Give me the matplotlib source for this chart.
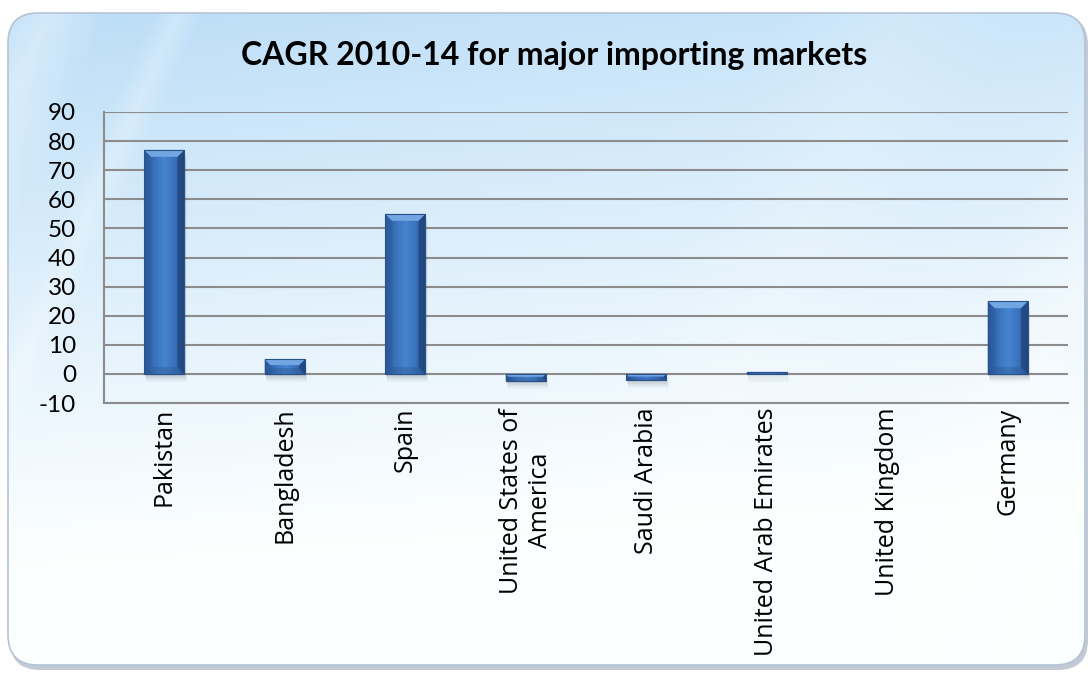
import numpy as np
import matplotlib
matplotlib.use("Agg")
import matplotlib.pyplot as plt
from matplotlib.patches import FancyBboxPatch, Polygon, Rectangle
from matplotlib.colors import LinearSegmentedColormap

# Chart data
markets = ["Pakistan", "Bangladesh", "Spain", "United States of\nAmerica",
           "Saudi Arabia", "United Arab Emirates", "United Kingdom", "Germany"]
cagr = [77.0, 5.0, 55.0, -2.4, -2.2, 0.7, 0.0, 25.0]
y_ticks = list(range(-10, 91, 10))
title = "CAGR 2010-14 for major importing markets"

W, H = 1089, 676
fig = plt.figure(figsize=(W / 100, H / 100), dpi=100)
fig.patch.set_facecolor("white")

# Background panel: rounded card with a soft blue-to-white wash
bg = fig.add_axes([0, 0, 1, 1], zorder=0)
bg.set_xlim(0, W)
bg.set_ylim(H, 0)
bg.axis("off")

yy, xx = np.mgrid[0:H, 0:W]
fy = yy / H
fx = xx / W
blue = np.array([0.74, 0.87, 0.97])
white = np.array([0.99, 1.0, 1.0])
t = np.clip(1.05 - 1.25 * fy - 0.25 * fx + 0.15 * fx * fy, 0, 1) ** 1.1
img = white[None, None, :] * (1 - t[..., None]) + blue[None, None, :] * t[..., None]
# faint diagonal light streaks
for c, w, a in [(-250, 60, 0.35), (-120, 25, 0.25), (900, 90, 0.3), (1000, 40, 0.3), (600, 120, 0.15)]:
    d = np.abs((xx - 0.45 * (H - yy)) - c)
    s = np.clip(1 - d / w, 0, 1) * a
    img = img * (1 - s[..., None]) + 1.0 * s[..., None]

shadow = FancyBboxPatch((10, 15), 1078, 655, boxstyle="round,pad=0,rounding_size=30",
                        facecolor="#8e9fb3", edgecolor="none", alpha=0.55, zorder=0)
bg.add_patch(shadow)
card = FancyBboxPatch((8, 13), 1077, 652, boxstyle="round,pad=0,rounding_size=30",
                      facecolor="none", edgecolor="#b4c4d6", linewidth=1.2, zorder=2)
bg.add_patch(card)
im = bg.imshow(img, extent=(0, W, H, 0), zorder=1, interpolation="bilinear")
im.set_clip_path(card)

# Plot area
left, right, top, bottom = 104, 1068, 112, 403
ax = fig.add_axes([left / W, 1 - bottom / H, (right - left) / W, (bottom - top) / H], zorder=2)
ax.patch.set_alpha(0)

x = np.arange(len(markets))
bars = ax.bar(x, cagr, width=0.335, color="#3a70b8", zorder=3)

ax.set_xlim(-0.5, len(markets) - 0.5)
ax.set_ylim(-10, 90)
ax.set_yticks(y_ticks)
ax.set_yticklabels([str(v) for v in y_ticks], fontsize=17.5, fontfamily="Lato")
ax.set_xticks(x)
ax.set_xticklabels(markets, rotation=90, fontsize=18, fontfamily="Open Sans",
                   va="top", ha="center", multialignment="center")
ax.tick_params(axis="y", length=0, pad=20)
ax.tick_params(axis="x", length=0, pad=3.5)
ax.grid(axis="y", color="#8c8c8c", linewidth=1.5, zorder=1)
for side in ("top", "right"):
    ax.spines[side].set_visible(False)
for side in ("left", "bottom"):
    ax.spines[side].set_color("#8c8c8c")
    ax.spines[side].set_linewidth(1.5)

# Bevelled 3D look for each bar, built from the bar geometry
px_x = (right - left) / (len(markets))          # pixels per x unit
px_y = (bottom - top) / 100.0                    # pixels per y unit
grad = LinearSegmentedColormap.from_list("barface", ["#26518f", "#3a72bc", "#4684cf", "#3a72bc", "#26518f"])
gx = np.linspace(0, 1, 64)[None, :]
for b in bars:
    x0, w, h = b.get_x(), b.get_width(), b.get_height()
    if abs(h) < 1e-9:
        continue
    y0, y1 = min(0, h), max(0, h)
    # drop shadow
    for k, a in enumerate([0.10, 0.08, 0.06, 0.04]):
        off = (2 + 2 * k) / px_y
        ax.add_patch(Rectangle((x0 + 0.3 * off * px_y / px_x, y0 - off), w, y1 - y0,
                               facecolor="#30394a", edgecolor="none", alpha=a, zorder=2))
    face = ax.imshow(gx, cmap=grad, aspect="auto", extent=(x0, x0 + w, y0, y1),
                     zorder=3.1, interpolation="bilinear")
    face.set_clip_path(b)
    bev = min(7.0, (y1 - y0) * px_y / 2.5)
    dx, dy = bev / px_x, bev / px_y
    top_y = y1
    ax.add_patch(Polygon([(x0, top_y), (x0 + w, top_y), (x0 + w - dx, top_y - dy), (x0 + dx, top_y - dy)],
                         closed=True, facecolor="#72a6e2", edgecolor="none", zorder=3.3))
    ax.add_patch(Polygon([(x0, y0), (x0 + w, y0), (x0 + w - dx, y0 + dy), (x0 + dx, y0 + dy)],
                         closed=True, facecolor="#2a5591", edgecolor="none", alpha=0.35, zorder=3.3))
    ax.add_patch(Polygon([(x0, y0), (x0, top_y), (x0 + dx, top_y - dy), (x0 + dx, y0 + dy)],
                         closed=True, facecolor="#2d5fa3", edgecolor="none", alpha=0.6, zorder=3.2))
    ax.add_patch(Polygon([(x0 + w, y0), (x0 + w, top_y), (x0 + w - dx, top_y - dy), (x0 + w - dx, y0 + dy)],
                         closed=True, facecolor="#1c4075", edgecolor="none", alpha=0.65, zorder=3.2))
    ax.add_patch(Rectangle((x0, y0), w, y1 - y0, facecolor="none", edgecolor="#2a5288",
                           linewidth=0.8, zorder=3.4))

fig.text(554 / W, 1 - 56 / H, title, fontsize=23, fontweight="bold", fontfamily="Lato",
         ha="center", va="center", color="black")

fig.savefig("out.png", dpi=100)
